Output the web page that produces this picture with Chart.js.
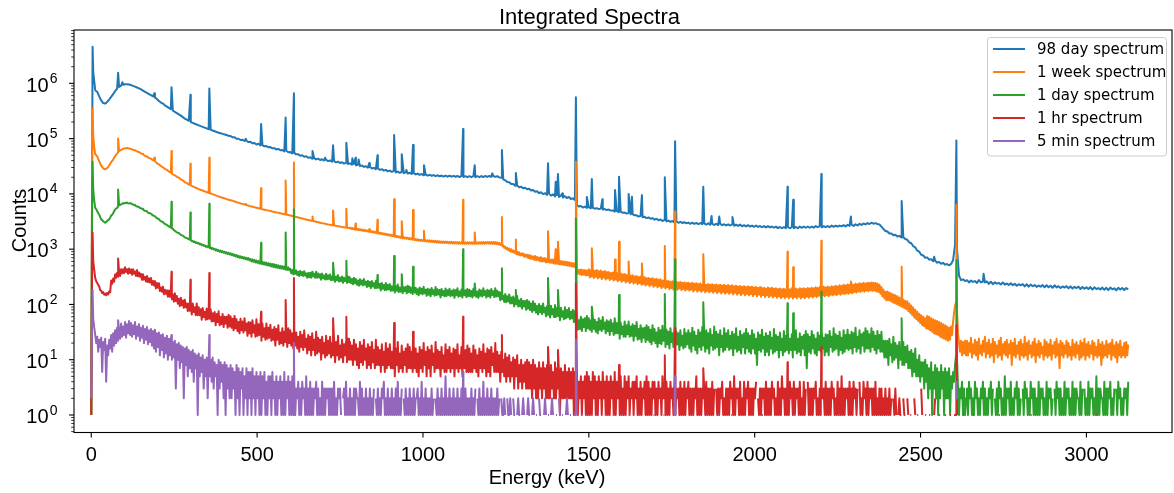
<!DOCTYPE html>
<html>
<head>
<meta charset="utf-8">
<title>Integrated Spectra</title>
<script src="https://cdn.jsdelivr.net/npm/chart.js@4.4.1/dist/chart.umd.min.js"></script>
<style>
  html, body { margin: 0; padding: 0; background: #ffffff; }
  canvas { display: block; }
</style>
</head>
<body>
<canvas id="chart" width="1174" height="493" style="width:1174px;height:493px"></canvas>
<script>
// ---------------- data ----------------
const chartTitle = 'Integrated Spectra';
const xAxisTitle = 'Energy (keV)';
const yAxisTitle = 'Counts';
const seriesLabels = ['98 day spectrum', '1 week spectrum', '1 day spectrum', '1 hr spectrum', '5 min spectrum'];
const seriesColors = ['#1f77b4', '#ff7f0e', '#2ca02c', '#d62728', '#9467bd'];
const seriesBinWidthKeV = [6, 3, 3, 3, 3];   // energy step of the listed samples, first sample at 0 keV
const xTickValues = [0, 500, 1000, 1500, 2000, 2500, 3000];
const xTickLabels = ['0', '500', '1000', '1500', '2000', '2500', '3000'];
const yTickExponents = [0, 1, 2, 3, 4, 5, 6];

// 98 day spectrum, every 6 keV
const counts98Day = [
1,1600000,750000,700000,580000,490000,440000,430000,460000,510000,
570000,640000,720000,800000,860000,910000,940000,960000,960000,950000,
930000,900000,870000,840000,810000,780000,740000,700000,670000,640000,
610000,580000,550000,520000,480000,450000,430000,400000,380000,360000,
340000,320000,305000,290000,275000,260000,245000,230000,220000,210000,
200000,193000,186000,180000,174000,168000,163000,158000,153000,148000,
144000,140000,136000,132000,128000,125000,122000,119000,116000,113000,
111500,105500,105500,99500,99500,94500,95500,90500,91500,86500,
87500,82500,83500,78500,80500,75500,76500,72500,73500,69500,
70300,66700,67300,63700,65300,61700,62200,58800,60200,56800,
57100,53900,55100,51900,52000,49000,50000,47000,47900,45100,
45900,43100,44400,42100,43400,41100,42400,40100,41300,39200,
40300,38200,39300,37200,38300,36200,37400,35400,36500,34700,
35700,33800,34700,32800,33700,31800,32700,30800,31600,29900,
30600,28900,29600,28000,28800,27200,28000,26400,27200,25600,
26400,25100,25800,24500,25300,24100,24900,23700,24500,23300,
24100,22900,23700,22500,23300,22100,22900,21700,22400,21400,
22100,21300,21900,21000,21700,20800,21500,20600,21400,20500,
21300,20500,21200,20400,21100,20200,21000,20200,20900,20100,
20900,20100,20900,20100,20900,20100,21000,20200,21100,20300,
21100,20300,21100,20300,20900,19900,19600,18300,17600,16400,
16300,15100,15100,14000,14200,13200,13500,12600,12900,12100,
12400,11500,11800,10900,11200,10300,10700,9900,10300,9600,
10100,9300,9800,9000,9500,8800,9300,8600,9100,8400,
8800,8100,8300,7800,6300,5900,6050,5650,5900,5550,
5700,5500,5620,5400,5520,5300,5420,5200,5320,5100,
5220,4980,5020,4780,4920,4680,4760,4540,4600,4400,
4500,4280,4320,4100,4100,3880,4000,3780,3850,3650,
3750,3550,3650,3420,3550,3330,3450,3230,3380,3180,
3290,3110,3240,3050,3180,3000,3130,2970,3080,2930,
3030,2880,3010,2860,2980,2840,2970,2830,2930,2790,
2930,2780,2880,2740,2870,2730,2880,2720,2820,2690,
2820,2680,2810,2640,2770,2630,2780,2590,2720,2580,
2720,2560,2670,2540,2680,2530,2620,2490,2620,2480,
2610,2470,2570,2440,2560,2400,2520,2390,2510,2400,
2520,2390,2510,2400,2520,2390,2560,2430,2570,2440,
2570,2440,2560,2450,2620,2490,2620,2490,2610,2500,
2620,2500,2670,2540,2660,2550,2670,2590,2720,2580,
2760,2640,2770,2640,2820,2680,2870,2740,2910,2800,
2960,2850,3010,2890,2960,2850,2800,2550,2330,2130,
2080,1920,1920,1790,1820,1700,1740,1630,1650,1530,
1480,1330,1280,1130,1080,940,900,790,770,700,
710,645,660,605,615,570,585,545,565,525,
540,510,540,630,1200,1000,330,275,285,265,
275,250,270,255,265,245,275,250,260,250,
260,235,258,232,252,238,245,230,250,228,
240,225,242,222,236,218,232,222,234,212,
232,210,228,214,224,208,220,210,224,204,
222,205,218,200,222,203,214,198,212,202,
214,196,212,194,208,198,210,190,206,192,
204,190,206,186,204,190,198,186,202,184,
200,182,202,188,196,180,200,186,198,182,
198,186
];

// 1 week spectrum, every 3 keV
const counts1Week = [
1,200000,110000,70000,52000,50000,48000,43000,39000,35000,32500,30500,29000,28200,27800,28500,29200,30500,32800,35000,
37500,39500,41800,45000,48200,51000,53600,56500,59500,61000,62600,64000,65400,66000,66500,67000,67400,66700,66000,65600,
65200,64000,62800,62000,61400,60000,58600,58000,57300,55500,53800,53000,52300,50500,48700,48000,47300,46000,44600,44000,
43400,42000,40700,40000,39300,37500,35800,35000,34300,33000,31800,31000,30300,29300,28400,27800,27300,26300,25300,24800,
24300,23400,22500,22100,21700,21000,20300,20000,19700,19000,18300,17900,17600,16900,16200,16000,15800,15200,14700,14600,
14400,14000,13700,13400,13200,12900,12700,12400,12200,12000,11800,11600,11500,11300,11100,10900,10800,10600,10400,10300,
10200,10000,9900,9700,9600,9400,9300,9100,9000,8850,8750,8600,8500,8400,8300,8150,8050,7950,7850,7750,
7700,7600,7500,7400,7300,7200,7100,7000,6950,6850,6750,6650,6600,6500,6450,6350,6300,6200,6150,6050,
6000,5950,5850,5800,5750,5650,5600,5550,5500,5450,5400,5330,5280,5230,5180,5130,5080,5030,4980,4940,
4900,4850,4800,4760,4720,4670,4620,4580,4540,4500,4460,4420,4380,4340,4300,4260,4220,4180,4140,4100,
4060,4020,3980,3940,3900,3860,3820,3780,3740,3700,3660,3620,3580,3540,3500,3470,3440,3400,3370,3340,
3310,3280,3250,3220,3190,3160,3130,3100,3070,3040,3010,2980,2960,2930,2900,2880,2850,2830,2800,2780,
2760,2740,2720,2700,2680,2660,2640,2620,2600,2580,2560,2540,2520,2500,2485,2470,2455,2440,2425,2410,
2455,2320,2425,2290,2395,2260,2365,2235,2335,2205,2300,2175,2270,2145,2240,2115,2210,2085,2180,2060,
2150,2030,2120,2000,2085,1970,2055,1940,2025,1910,1995,1880,1960,1850,1930,1825,1900,1795,1870,1765,
1845,1740,1815,1710,1785,1680,1755,1650,1725,1625,1690,1600,1670,1580,1650,1560,1630,1540,1610,1520,
1590,1500,1570,1480,1550,1460,1530,1440,1505,1425,1485,1410,1475,1400,1465,1390,1455,1380,1445,1370,
1440,1355,1430,1345,1420,1335,1410,1325,1400,1315,1390,1305,1380,1300,1375,1295,1370,1290,1365,1285,
1360,1280,1355,1275,1350,1270,1345,1265,1340,1262,1337,1260,1335,1258,1333,1256,1331,1254,1330,1252,
1330,1252,1330,1252,1330,1253,1332,1254,1334,1256,1336,1258,1338,1260,1340,1262,1341,1263,1342,1264,
1350,1255,1345,1250,1350,1245,1340,1235,1325,1220,1305,1190,1250,1130,1180,1060,1110,1000,1055,955,
1030,900,995,890,950,860,930,815,905,790,880,770,835,770,840,730,800,725,795,690,
785,670,760,668,742,645,750,628,720,630,708,602,712,598,684,600,690,572,665,580,
665,570,650,565,648,552,640,548,625,540,622,530,612,528,600,515,596,512,585,500,
578,495,570,485,560,478,552,500,440,360,425,350,430,340,420,345,418,332,412,336,
432,310,415,322,428,300,405,316,420,296,398,310,412,288,392,305,404,282,386,298,
385,278,372,290,380,270,366,284,372,262,358,276,364,256,350,270,356,250,342,262,
340,244,330,256,336,238,322,250,328,232,314,244,320,226,306,238,312,220,298,232,
302,214,292,226,298,208,286,220,290,204,280,214,284,198,272,208,278,194,266,204,
266,190,258,198,262,186,254,196,258,184,250,194,254,182,246,190,250,178,244,188,
248,178,240,186,246,172,236,184,242,170,234,180,240,168,230,178,236,166,228,176,
234,166,228,174,232,162,224,172,230,160,222,170,228,158,220,168,226,156,218,166,
224,156,216,164,222,152,214,162,218,150,212,160,216,148,208,158,214,146,206,156,
212,146,206,154,210,142,202,152,206,140,200,150,204,138,196,148,200,136,194,146,
202,136,196,144,200,134,192,142,196,132,190,140,194,130,188,138,192,130,186,138,
194,130,188,138,196,128,190,136,194,130,188,138,196,128,192,136,196,130,190,138,
198,132,194,140,200,134,196,142,204,136,198,144,206,138,200,146,208,140,202,148,
210,142,204,150,214,146,208,152,218,148,212,156,222,150,216,158,226,154,220,160,
230,156,224,164,234,160,228,168,238,164,232,172,242,168,236,176,246,170,240,178,
248,174,244,180,250,176,246,178,244,172,238,168,226,156,206,140,186,128,170,118,
172,120,164,116,158,110,152,106,146,102,140,98,134,94,128,90,122,86,116,82,
114,76,104,70,96,64,88,58,80,54,74,50,68,46,64,42,60,40,56,37,
62,36,60,34,56,32,54,30,52,29,50,28,48,26,46,25,44,24,42,23,
40,22,38,23,40,28,48,70,95,110,75,30,20,14,22,12,21,13,22,12,
22,12,20,14,25,11,19,13,23,12,21,10,24,13,18,12,22,14,26,11,
20,13,23,11,19,12,24,9,21,13,18,11,22,12,25,10,19,13,21,12,
23,11,19,13,22,8,20,12,24,11,18,13,21,10,23,12,19,11,26,12,
20,10,22,13,18,11,21,12,24,9,19,12,22,11,20,13,17,10,23,12,
21,11,19,12,23,10,18,13,21,11,24,12,19,7,22,12,20,11,18,13,
22,11,20,12,17,10,23,12,19,11,21,13,18,10,22,11,20,12,24,10,
19,12,21,11,18,13,22,10,20,12,17,11,23,12,19,8,21,11,18,12,
22,11,19,13,20,10,23,12,18,11,21,9,19,12,22,11,17,12,20,11,
21,12,19
];

// 1 day spectrum, every 3 keV
const counts1Day = [
1,20000,12000,7500,5600,5300,4850,4500,4200,3800,3450,3350,3200,3100,3000,3100,3250,3350,3450,3700,
4050,4200,4450,4850,5200,5450,5600,5950,6250,6300,6450,6600,6800,6700,6900,6800,6950,6750,6700,6750,
6800,6500,6450,6300,6300,6000,5900,5850,5850,5550,5480,5380,5350,5050,4950,4900,4850,4600,4500,4450,
4400,4200,4100,4000,3950,3750,3650,3550,3500,3300,3200,3150,3100,2950,2850,2800,2750,2650,2600,2500,
2450,2380,2320,2200,2150,2080,2020,1980,1960,1880,1820,1780,1760,1700,1640,1610,1590,1540,1520,1480,
1470,1390,1410,1340,1370,1290,1330,1270,1290,1220,1250,1180,1210,1150,1180,1110,1140,1080,1110,1050,
1080,1010,1050,990,1020,950,990,930,960,900,940,880,920,860,900,840,880,820,860,800,
840,780,820,760,800,740,780,720,760,700,745,690,730,675,715,660,700,645,690,630,
665,600,650,590,640,575,625,565,610,550,600,540,590,530,578,520,570,510,558,500,
548,485,540,475,530,468,520,460,510,452,500,445,492,438,484,430,476,422,468,415,
440,367,420,350,436,361,413,341,390,326,405,339,386,326,400,332,365,304,372,310,
376,304,387,323,360,303,391,305,362,308,351,280,361,297,335,282,360,284,337,289,
347,274,321,277,331,257,321,274,339,259,303,262,320,247,303,264,305,245,316,252,
303,243,288,232,305,242,287,228,271,217,286,229,271,221,288,228,258,207,267,214,
256,197,265,212,243,196,268,199,245,201,236,179,245,193,224,181,244,183,226,187,
233,176,213,179,222,164,214,177,229,167,203,170,217,160,204,174,208,159,218,167,
209,162,199,154,215,164,201,154,189,146,203,158,193,152,208,160,185,143,193,150,
187,140,198,155,181,144,206,147,188,151,182,134,191,148,174,140,195,142,181,148,
192,141,176,145,186,132,181,147,197,138,172,142,187,133,175,147,181,135,191,142,
184,140,175,134,192,145,181,137,171,131,187,143,179,139,196,148,174,133,185,141,
179,133,190,148,173,136,196,139,177,140,167,119,167,124,144,111,155,110,141,113,
152,104,133,105,139,92,131,101,142,92,118,92,127,84,115,92,116,80,120,84,
113,79,104,73,114,78,103,71,94,66,102,72,94,67,104,72,87,61,93,65,
89,58,95,66,83,59,98,60,86,62,81,52,87,60,75,54,89,56,79,59,
86,54,74,56,80,48,75,55,66,35,52,36,60,33,54,39,56,33,62,37,
56,35,51,32,60,36,53,32,48,30,56,35,51,33,59,36,47,30,52,33,
49,28,53,33,45,28,56,30,46,30,44,24,47,29,40,26,49,26,42,29,
49,26,40,27,44,22,41,27,48,23,36,24,42,21,37,25,38,21,42,23,
39,21,35,19,42,22,36,20,31,17,38,20,34,19,41,22,31,17,35,19,
32,16,37,21,30,17,40,18,32,19,30,15,34,18,27,16,36,17,30,19,
34,16,30,14,38,18,32,15,27,13,35,17,31,15,39,18,29,14,34,16,
30,13,36,18,28,15,40,16,32,17,29,12,34,17,27,14,37,15,30,17,
34,15,27,16,32,12,29,16,37,14,26,15,33,13,28,17,30,13,36,16,
30,14,27,13,34,16,29,13,24,8,31,15,28,14,35,16,26,12,30,14,
27,12,32,16,25,13,36,14,28,15,26,11,31,15,24,12,33,14,27,15,
31,13,24,15,29,11,27,15,34,13,24,14,30,12,26,16,28,12,33,7,
29,14,26,13,33,16,28,13,24,12,31,15,27,14,34,16,25,12,29,14,
28,12,33,17,26,14,37,15,29,16,27,12,32,15,25,13,34,14,28,16,
35,15,28,16,32,13,30,17,38,14,26,16,34,13,29,18,31,14,37,16,
33,16,29,14,37,17,32,15,27,13,33,16,28,14,32,14,22,11,22,11,
22,8,24,12,19,9,26,10,20,11,18,7,21,10,16,8,21,8,17,9,
18,7,14,7,15,5,13,6,16,5,10,5,12,4,9,5,9,3,10,4,
8,2,7,3,9,1,6,3,8,2,7,1,6,2,8,3,6,1,7,2,
6,2,7,1,5,3,6,4,8,12,10,3,1,3,2,4,1,3,1,2,
3,1,4,2,3,1,2,1,4,2,3,1,2,1,3,2,4,1,3,1,
2,1,3,2,4,1,3,0,2,1,3,1,4,2,3,1,2,1,5,1,
3,2,3,1,4,1,2,1,3,2,4,1,3,1,2,0,3,1,4,2,
3,1,2,1,4,2,3,1,3,1,2,1,4,1,3,2,3,1,2,1,
4,1,3,2,3,1,2,0,3,1,4,2,3,1,3,1,2,1,4,1,
3,2,3,1,2,1,4,1,3,1,3,2,2,1,4,1,3,0,3,1,
2,1,4,1,3,2,3,1,2,1,5,1,3,1,3,2,2,1,4,1,
3,1,3,2,4,1,2,1,3,0,3,1,4,2,3,1,2,1,3,2,
3,1,4
];

// 1 hr spectrum, every 3 keV
const counts1Hr = [
1,1200,600,420,300,262,245,226,212,180,178,160,168,150,158,146,162,152,172,165,
270,236,293,258,350,303,373,318,386,328,434,365,435,368,472,387,434,358,448,370,
430,344,434,358,394,328,418,323,379,317,357,280,353,285,314,260,326,254,296,250,
301,228,266,221,264,195,244,200,242,175,203,170,209,153,184,156,180,138,179,137,
170,124,152,112,159,115,142,103,127,93,132,97,118,87,122,89,104,76,104,77,
100,66,104,73,89,64,104,64,89,64,82,53,86,59,74,53,84,54,74,55,
81,49,69,50,73,42,67,48,75,42,59,44,67,39,60,45,60,38,65,40,
61,38,55,34,62,37,54,33,48,30,55,34,49,31,56,34,45,27,48,30,
47,26,52,31,42,26,54,27,44,28,41,22,45,26,37,23,45,24,38,25,
43,22,35,23,39,18,36,23,42,19,31,20,37,18,32,21,33,17,37,20,
34,18,30,16,36,18,31,16,26,14,32,17,28,15,34,17,24,13,28,15,
26,12,30,15,23,12,32,13,25,14,23,10,26,13,20,11,27,12,22,13,
26,11,20,12,23,9,21,12,27,10,18,11,23,9,19,12,21,9,24,10,
21,10,18,8,23,10,19,8,16,7,21,9,18,8,23,10,16,7,19,8,
17,7,21,9,15,7,23,8,17,8,15,6,19,8,14,6,20,7,16,8,
19,7,14,7,17,5,16,8,21,6,13,7,18,6,14,8,16,6,19,7,
17,7,14,6,19,7,16,6,13,5,17,7,15,6,20,8,14,5,17,7,
15,5,18,8,13,6,21,7,15,7,14,5,17,7,12,6,19,6,15,7,
17,6,13,7,16,5,15,7,19,6,12,7,17,5,13,7,15,6,18,6,
16,6,13,6,18,7,15,6,12,5,16,7,14,6,19,7,13,5,16,6,
15,5,17,8,13,6,20,6,14,6,12,4,14,6,10,5,13,4,11,5,
12,4,9,5,11,3,10,5,12,3,8,4,10,3,8,4,9,3,10,3,
9,3,8,2,10,3,8,2,7,2,9,3,7,2,9,3,7,2,8,2,
7,2,8,3,6,2,9,2,7,3,6,1,7,2,6,2,8,2,6,2,
7,2,6,2,7,1,6,2,6,1,4,2,5,1,4,2,5,1,6,1,
5,1,4,1,6,2,5,1,4,1,5,2,4,1,6,2,4,1,5,1,
4,1,5,2,4,1,6,1,4,2,4,1,5,1,3,1,5,1,4,2,
5,1,3,2,4,1,4,2,5,1,3,1,4,1,3,2,4,1,5,1,
4,1,3,1,4,2,4,1,3,1,4,2,3,1,5,2,3,1,4,1,
3,1,4,2,3,1,4,1,3,2,3,1,4,1,3,1,4,1,3,2,
4,1,3,1,3,1,3,2,5,1,3,1,3,1,3,2,3,1,4,1,
3,1,3,1,4,1,3,0,3,1,3,1,3,2,4,1,2,1,3,1,
3,1,4,2,3,1,5,1,3,2,3,1,4,1,2,1,4,1,3,2,
4,1,3,1,3,1,3,2,4,0,2,1,3,1,3,2,3,1,4,1,
3,1,3,1,4,2,3,1,2,1,4,1,3,1,5,2,3,1,3,1,
3,1,4,2,3,1,4,1,3,2,3,1,4,1,2,1,4,1,3,0,
4,1,3,1,3,1,3,2,4,1,2,1,3,1,3,2,3,1,4,1,
3,1,3,1,4,2,3,1,2,1,4,1,3,1,5,1,3,1,3,2,
3,1,4,1,3,1,4,2,3,1,3,0,4,1,2,1,4,2,3,1,
4,1,3,2,3,1,3,1,4,1,2,1,3,1,3,1,2,1,3,1,
2,1,3,1,2,0,2,1,3,1,0,1,2,1,1,0,2,1,1,0,
2,1,0,1,1,0,0,2,1,0,1,1,0,0,3,1,0,0,1,1,
0,0,1,1,0,0,0,1,2,0,0,0,1,1,0,0,0,0,1,1,
0,0,0,1,1,0,0,1,1,1,1,0,0,0,0,0,1,1,0,0,
0,0,0,0,0,0,1,1,0,0,0,0,0,0,0,0,0,0,0,0,
0,0,0,0,0,0,0,0,0,0,0,0,1,1,0,0,0,0,0,0,
0,0,0,0,0,0,0,0,0,0,0,0,0,0,0,0,0,0,0,0,
0,0,0,0,1,1,0,0,0,0,0,0,0,0,0,0,0,0,0,0,
0,0,0,0,0,0,0,0,0,0,0,0,0,0,0,0,0,0,0,0,
0,0,0,0,0,0,0,0,0,0,0,0,0,0,0,0,0,0,0,0,
0,0,0,0,0,0,0,0,0,0,1,1,0,0,0,0,0,0,0,0,
0,0,0,0,0,0,0,0,0,0,0,0,0,0,0,0,0,0,0,0,
0,0,0
];

// 5 min spectrum, every 3 keV
const counts5Min = [
2,90,55,38,28,20,26,14,23,17,25,6,21,15,24,4,18,12,23,16,
28,14,30,18,34,20,38,22,33,24,45,26,40,28,48,25,44,30,50,28,
46,26,42,29,48,24,40,27,44,22,38,25,41,20,36,23,39,19,34,21,
36,18,33,16,35,14,30,17,31,12,28,15,29,11,25,13,27,10,24,12,
24,10,21,11,22,3,19,10,20,7,18,9,17,2,16,8,17,5,15,7,
14,6,15,4,13,7,12,1,13,5,11,6,12,3,10,5,11,2,10,5,
10,4,11,3,9,5,8,1,10,3,9,4,8,2,9,1,8,3,7,2,
8,2,7,3,6,1,8,2,7,1,6,3,7,1,5,2,7,1,6,2,
6,1,7,2,5,1,6,2,5,1,6,1,5,2,6,1,4,1,5,2,
5,1,6,2,4,1,5,1,4,2,5,1,4,1,6,1,4,2,5,1,
4,1,5,1,4,1,3,2,4,1,3,1,4,2,3,1,5,1,3,1,
4,1,3,1,3,2,4,1,3,1,2,1,4,1,3,1,3,2,3,1,
3,1,3,1,4,1,2,1,3,2,3,1,0,2,3,1,4,1,2,1,
3,1,2,1,3,1,3,2,2,1,4,1,3,1,2,1,3,1,2,1,
3,1,2,1,3,0,2,1,3,1,2,1,3,2,4,1,2,1,3,1,
2,1,3,1,2,1,3,1,4,1,2,1,3,0,2,1,3,1,2,1,
3,1,2,1,3,1,2,2,3,1,2,1,4,1,2,1,3,1,2,1,
2,1,3,1,2,0,2,1,3,1,2,1,3,1,2,1,5,1,2,1,
3,1,2,1,3,1,2,1,3,1,2,1,3,1,2,1,3,1,2,1,
2,1,3,1,2,1,3,0,2,1,3,1,2,1,4,1,2,1,3,1,
2,1,3,1,2,1,2,1,3,1,2,0,2,1,1,2,1,0,2,1,
1,2,1,0,2,1,1,0,1,2,1,1,0,1,2,1,0,0,1,2,
1,1,0,1,2,1,0,1,1,0,2,1,1,0,0,1,2,1,0,1,
1,0,1,2,1,0,0,1,1,0,2,1,0,1,1,0,0,1,2,1,
0,1,1,0,0,1,1,1,1,0,0,0,1,1,0,0,0,1,1,0,
0,0,1,1,0,0,0,0,0,1,1,0,0,0,0,0,1,1,0,0,
0,0,0,0,1,1,0,0,0,0,0,0,0,1,1,0,0,0,0,0,
1,1,0,0,0,0,0,0,0,0,1,1,0,0,0,0,0,0,0,0,
0,0,0,0,0,1,1,0,0,0,0,0,0,0,0,1,1,0,0,0,
0,0,0,0,0,0,1,1,0,0,0,0,0,0,0,0,0,0,0,0,
0,0,0,0,1,1,0,0,0,0,0,0,0,0,0,0,0,0,1,1,
0,0,0,0,0,0,0,0,0,0,1,1,0,0,0,0,0,0,0,0,
0,0,0,1,1,0,0,0,0,0,0,0,0,0,0,0,0,0,0,0,
0,0,0,0,0,0,0,0,0,0,0,0,0,0,1,1,0,0,0,0,
0,0,0,0,0,0,0,0,0,0,0,0,0,0,0,0,0,0,0,0,
0,0,0,0,0,0,1,1,0,0,0,0,0,0,0,0,0,0,0,0,
0,0,0,0,0,0,0,0,0,0,0,0,0,0,0,0,0,0,0,0,
0,0,0,0,0,0,0,0,0,0,0,1,1,0,0,0,0,0,0,0,
0,0,0,0,0,0,0,0,0,0,0,0,0,0,0,0,0,0,0,0,
0,0,0,0,0,0,0,0,0,0,0,0,0,0,0,0,0,0,0,0,
0,0,0,0,0,0,0,0,0,0,0,0,0,0,0,0,0,0,0,0,
0,0,0,0,0,0,0,0,0,0,0,0,0,0,0,0,0,0,0,0,
0,0,0,0,0,0,0,0,0,0,0,0,0,0,0,0,0,0,0,0,
0,0,0,0,0,0,0,0,0,2,2,0,0,0,0,0,0,0,0,0,
0,0,0,0,0,0,0,0,0,0,0,0,0,0,0,0,0,0,0,0,
0,0,0,0,0,0,0,0,0,0,0,0,0,0,0,0,0,0,0,0,
0,0,0,0,0,0,0,0,0,0,0,0,0,0,0,0,0,0,0,0,
0,0,0,0,0,0,0,0,0,0,0,0,0,0,0,0,0,0,0,0,
0,0,0,0,0,0,0,0,0,0,0,0,0,0,0,0,0,0,0,0,
0,0,0,0,0,0,0,0,0,0,0,0,0,0,0,0,0,0,0,0,
0,0,0,0,0,0,0,0,0,0,0,0,0,0,0,0,0,0,0,0,
0,0,0,0,0,0,0,0,0,0,0,0,0,0,0,0,0,0,0,0,
0,0,0
];

// photopeaks: [energy keV, counts at peak top]
const peaks98Day = [[4,4600000],[81,1550000],[94,1050000],[190,660000],[242,850000],[299,620000],[356,810000],[466,99000],[512,183000],[586,240000],[611,660000],[667,60000],[705,45000],[729,76000],[769,84000],[787,44000],[797,45000],[806,42000],[838,36000],[863,50000],[913,116000],[936,52000],[950,27000],[970,77000],[1003,33000],[1121,150000],[1156,33000],[1209,23500],[1238,62000],[1280,24000],[1377,36000],[1400,16600],[1407,23000],[1420,10200],[1461,560000],[1494,8800],[1509,18600],[1541,8000],[1579,11700],[1591,20500],[1620,10000],[1630,8900],[1660,9500],[1729,20000],[1760,90000],[1845,13500],[1870,4000],[1893,3900],[1933,3800],[2099,13500],[2116,7800],[2201,23000],[2290,3900],[2443,7400],[2541,730],[2608,92000],[2690,360]];
const peaks1Week = [[4,350000],[81,100000],[190,45000],[242,60000],[299,35000],[356,45000],[466,6600],[512,12600],[586,17400],[611,37000],[667,3900],[729,5000],[769,5400],[797,2900],[838,2300],[863,3400],[913,8000],[936,3200],[970,5100],[1003,2150],[1121,7800],[1156,2000],[1238,3800],[1280,1500],[1377,2100],[1400,1000],[1407,1360],[1461,38000],[1509,1040],[1579,650],[1591,1360],[1620,600],[1660,550],[1729,1140],[1760,4800],[1845,810],[2099,900],[2116,470],[2201,1420],[2290,260],[2443,480],[2608,6300]];
const peaks1Day = [[4,38000],[81,12000],[242,7200],[299,4600],[356,6600],[512,1300],[586,2000],[611,5300],[667,390],[729,570],[769,620],[863,340],[913,750],[936,350],[970,480],[1121,1000],[1156,240],[1238,450],[1280,182],[1377,300],[1407,182],[1461,3600],[1509,91],[1591,148],[1729,155],[1760,660],[1845,110],[2099,105],[2116,69],[2201,170],[2443,56],[2608,640]];
const peaks1Hr = [[4,2000],[81,680],[242,390],[299,280],[356,370],[512,74],[586,120],[611,300],[729,56],[769,60],[913,46],[970,32],[1121,60],[1238,28],[1377,17],[1407,15],[1461,240],[1591,8],[1729,12],[1760,37],[1845,7],[2099,9],[2201,17],[2608,42]];
const peaks5Min = [[4,182],[81,52],[242,28],[356,28],[611,20],[1121,6],[1461,23],[1760,5],[2608,4]];

// ---------------- chart ----------------
const countSeries = [counts98Day, counts1Week, counts1Day, counts1Hr, counts5Min];
const peakSeries = [peaks98Day, peaks1Week, peaks1Day, peaks1Hr, peaks5Min];

function toPoints(counts, peaks, step) {
  const pts = counts.map((c, i) => ({ x: i * step, y: c > 0 ? c : null }));
  peaks.forEach(p => pts.push({ x: p[0], y: p[1] }));
  pts.sort((a, b) => a.x - b.x);
  return pts;
}

const datasets = seriesLabels.map((label, k) => ({
  label: label,
  data: toPoints(countSeries[k], peakSeries[k], seriesBinWidthKeV[k]),
  borderColor: seriesColors[k],
  backgroundColor: seriesColors[k],
  borderWidth: 2,
  pointRadius: 0,
  pointHoverRadius: 0,
  tension: 0,
  fill: false,
  spanGaps: false,
  borderJoinStyle: 'round',
  order: seriesLabels.length - k
}));

const TICK_FONT = '"Liberation Sans", Arial, sans-serif';
const LEGEND_FONT = '"DejaVu Sans", sans-serif';

const mplDecor = {
  id: 'mplDecor',
  beforeDraw(chart) {
    const ctx = chart.ctx;
    ctx.save();
    ctx.fillStyle = '#ffffff';
    ctx.fillRect(0, 0, chart.width, chart.height);
    ctx.restore();
  },
  afterDraw(chart) {
    const ctx = chart.ctx;
    const a = chart.chartArea;
    const xs = chart.scales.x, ys = chart.scales.y;
    const line = (x1, y1, x2, y2) => { ctx.beginPath(); ctx.moveTo(x1, y1); ctx.lineTo(x2, y2); ctx.stroke(); };
    ctx.save();
    ctx.strokeStyle = '#000000';
    ctx.lineWidth = 1.1;
    ctx.strokeRect(a.left, a.top, a.right - a.left, a.bottom - a.top);

    ctx.fillStyle = '#000000';
    ctx.font = '20px ' + TICK_FONT;
    ctx.textAlign = 'center';
    ctx.textBaseline = 'alphabetic';
    xTickValues.forEach((v, i) => {
      const px = xs.getPixelForValue(v);
      line(px, a.bottom, px, a.bottom + 4.9);
      ctx.fillText(xTickLabels[i], px, a.bottom + 28.2);
    });

    yTickExponents.forEach(e => {
      const py = ys.getPixelForValue(Math.pow(10, e));
      ctx.lineWidth = 1.1;
      line(a.left - 4.9, py, a.left, py);
      const expStr = String(e);
      ctx.font = '14px ' + TICK_FONT;
      const ew = ctx.measureText(expStr).width;
      const right = a.left - 16.4;
      ctx.textAlign = 'right';
      ctx.fillText(expStr, right, py - 0.4);
      ctx.font = '20px ' + TICK_FONT;
      ctx.fillText('10', right - ew - 1.2, py + 8.2);
    });
    ctx.lineWidth = 0.8;
    for (let e = -1; e <= 7; e++) {
      for (let m = 2; m <= 9; m++) {
        const v = m * Math.pow(10, e);
        if (v < ys.min || v > ys.max) continue;
        const py = ys.getPixelForValue(v);
        line(a.left - 2.8, py, a.left, py);
      }
    }

    ctx.font = '20px ' + TICK_FONT;
    ctx.textAlign = 'center';
    ctx.fillText(xAxisTitle, 547, 484);
    ctx.save();
    ctx.translate(25.6, 220.5);
    ctx.rotate(-Math.PI / 2);
    ctx.fillText(yAxisTitle, 0, 0);
    ctx.restore();

    ctx.font = '22px ' + TICK_FONT;
    ctx.fillText(chartTitle, 589.5, 24);

    const L = { x: 987.5, y: 37.5, w: 179, h: 118.5, r: 3 };
    ctx.beginPath();
    ctx.moveTo(L.x + L.r, L.y);
    ctx.lineTo(L.x + L.w - L.r, L.y);
    ctx.quadraticCurveTo(L.x + L.w, L.y, L.x + L.w, L.y + L.r);
    ctx.lineTo(L.x + L.w, L.y + L.h - L.r);
    ctx.quadraticCurveTo(L.x + L.w, L.y + L.h, L.x + L.w - L.r, L.y + L.h);
    ctx.lineTo(L.x + L.r, L.y + L.h);
    ctx.quadraticCurveTo(L.x, L.y + L.h, L.x, L.y + L.h - L.r);
    ctx.lineTo(L.x, L.y + L.r);
    ctx.quadraticCurveTo(L.x, L.y, L.x + L.r, L.y);
    ctx.closePath();
    ctx.fillStyle = 'rgba(255,255,255,0.8)';
    ctx.fill();
    ctx.strokeStyle = '#cccccc';
    ctx.lineWidth = 1;
    ctx.stroke();
    ctx.font = '15px ' + LEGEND_FONT;
    ctx.textAlign = 'left';
    chart.data.datasets.forEach((ds, k) => {
      const ry = 49 + k * 23;
      ctx.strokeStyle = ds.borderColor;
      ctx.lineWidth = 2;
      line(993, ry, 1025, ry);
      ctx.fillStyle = '#000000';
      ctx.fillText(ds.label, 1037, ry + 5.4);
    });
    ctx.restore();
  }
};

new Chart(document.getElementById('chart'), {
  type: 'line',
  data: { datasets: datasets },
  options: {
    responsive: false,
    animation: false,
    devicePixelRatio: 1,
    events: [],
    layout: { padding: { left: 74, right: 2, top: 30, bottom: 60.5 } },
    scales: {
      x: { type: 'linear', min: -52, max: 3258, display: false },
      y: { type: 'logarithmic', min: 0.482, max: 9.23e6, display: false }
    },
    plugins: {
      legend: { display: false },
      tooltip: { enabled: false },
      title: { display: false }
    }
  },
  plugins: [mplDecor]
});
</script>
</body>
</html>
